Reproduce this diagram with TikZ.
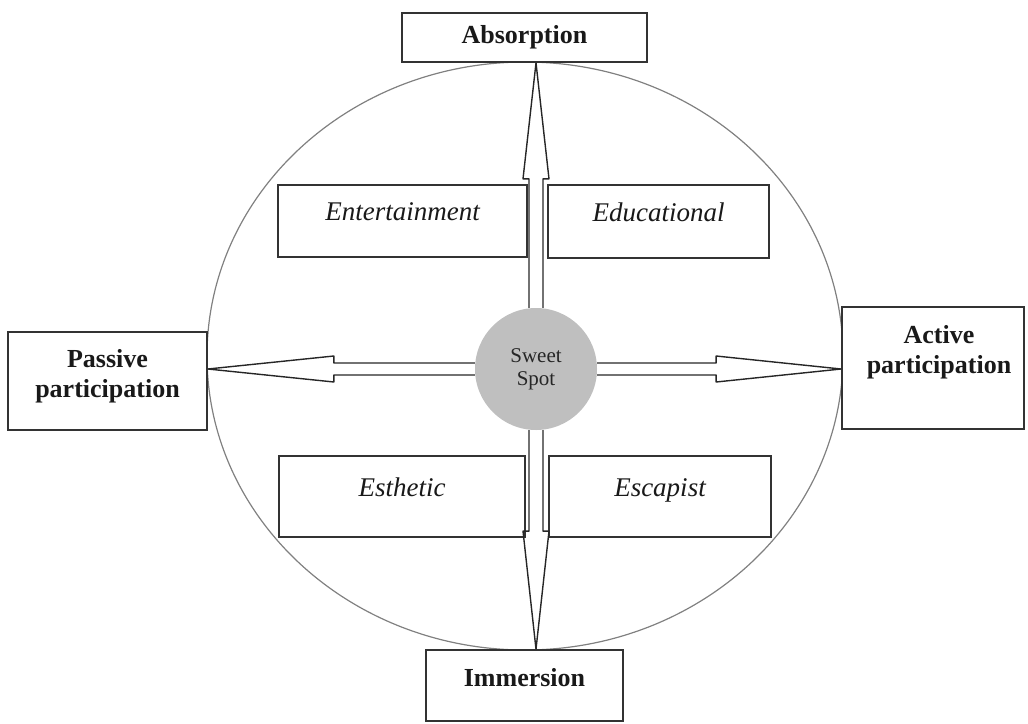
\documentclass[tikz,border=0pt]{standalone}
\usepackage{fontspec}
\setmainfont{Liberation Serif}
\usetikzlibrary{calc,positioning}

\begin{document}
\begin{tikzpicture}[x=1pt, y=-1pt,
  box/.style={draw=black!80, line width=1.8pt, fill=white, inner sep=0pt},
  pole/.style={font=\bfseries\fontsize{26}{30}\selectfont, align=center, text=black!90},
  kind/.style={font=\itshape\fontsize{27}{32}\selectfont, text=black!90,
    text height=20pt, text depth=6pt},
  blockarrow/.style={draw=black!85, line width=1.4pt, line join=bevel},
  rim/.style={draw=black!50, line width=1.2pt}]
  \useasboundingbox (0,0) rectangle (1028,723);
  \draw[rim] (525,356) ellipse [x radius=318, y radius=294];
  % the four poles
  \node (ABS) [box, minimum width=245pt, minimum height=49pt,
    label={[pole]center:Absorption}] at (524.5,37.5) {};
  \node (IMM) [box, minimum width=197pt, minimum height=71pt,
    label={[pole, yshift=8pt]center:Immersion}] at (524.5,685.5) {};
  \node (PAS) [box, minimum width=199pt, minimum height=98pt,
    label={[pole, yshift=5pt]center:Passive\\participation}] at (107.5,381) {};
  \node (ACT) [box, minimum width=182pt, minimum height=122pt,
    label={[pole, yshift=16pt, xshift=6pt]center:Active\\participation}] at (933,368) {};
  % the four realms
  \node (ENT) [box, minimum width=249pt, minimum height=72pt,
    label={[kind, yshift=7.5pt]center:Entertainment}] at (402.5,221) {};
  \node (EDU) [box, minimum width=221pt, minimum height=73pt,
    label={[kind, yshift=7.5pt]center:Educational}] at (658.5,221.5) {};
  \node (EST) [box, minimum width=246pt, minimum height=81pt,
    label={[kind, yshift=7pt]center:Esthetic}] at (402,496.5) {};
  \node (ESC) [box, minimum width=222pt, minimum height=81pt,
    label={[kind, yshift=7pt]center:Escapist}] at (660,496.5) {};
  \node (SPOT) [circle, fill=black!25, minimum size=122pt, inner sep=0pt, align=center,
    text=black!85, font=\fontsize{21}{23}\selectfont] at (536,369) {Sweet\\Spot};
  % arrow tips
  \coordinate (TN) at (SPOT |- ABS.south);
  \coordinate (TS) at (SPOT |- IMM.north);
  \coordinate (TW) at (PAS.east |- SPOT);
  \coordinate (TE) at (ACT.west |- SPOT);
  \draw[blockarrow] ($(SPOT.north)+(-7,0)$) -- ($(TN)+(-7,116)$) -- ($(TN)+(-13,116)$) -- (TN)
    -- ($(TN)+(13,116)$) -- ($(TN)+(7,116)$) -- ($(SPOT.north)+(7,0)$);
  \draw[blockarrow] ($(SPOT.south)+(-7,0)$) -- ($(TS)+(-7,-118)$) -- ($(TS)+(-13,-118)$) -- (TS)
    -- ($(TS)+(13,-118)$) -- ($(TS)+(7,-118)$) -- ($(SPOT.south)+(7,0)$);
  \draw[blockarrow] ($(SPOT.west)+(0,-6)$) -- ($(TW)+(126,-6)$) -- ($(TW)+(126,-13)$) -- (TW)
    -- ($(TW)+(126,13)$) -- ($(TW)+(126,6)$) -- ($(SPOT.west)+(0,6)$);
  \draw[blockarrow] ($(SPOT.east)+(0,-6)$) -- ($(TE)+(-125,-6)$) -- ($(TE)+(-125,-13)$) -- (TE)
    -- ($(TE)+(-125,13)$) -- ($(TE)+(-125,6)$) -- ($(SPOT.east)+(0,6)$);
\end{tikzpicture}
\end{document}
